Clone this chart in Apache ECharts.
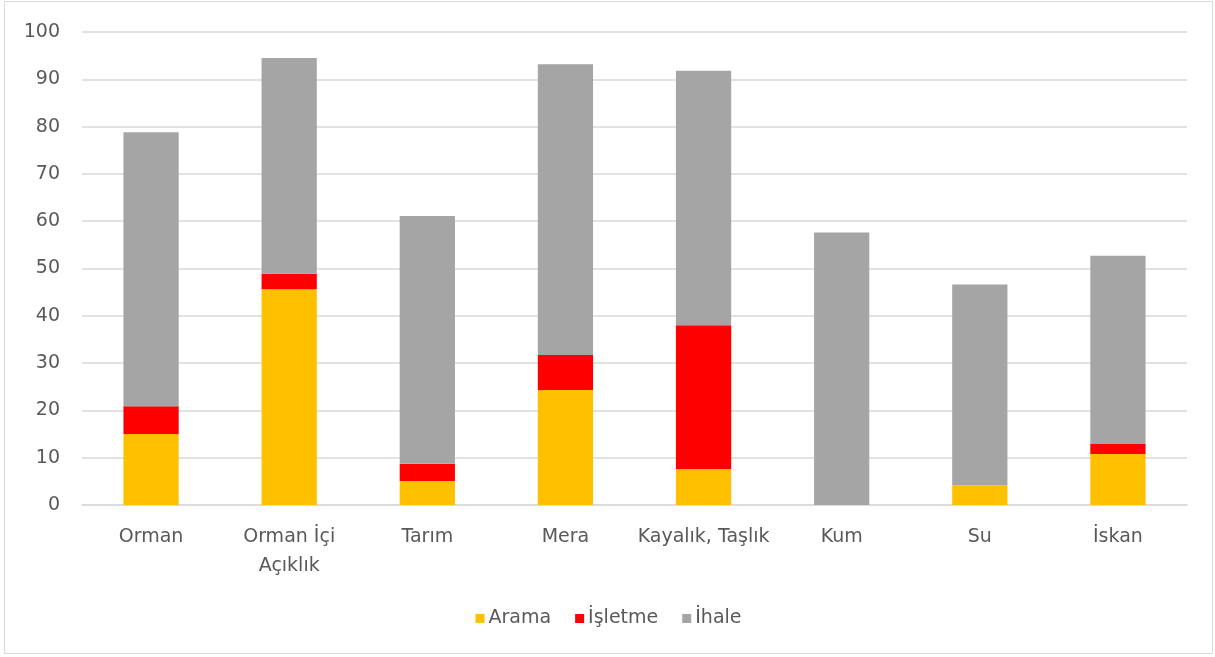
<!DOCTYPE html>
<html>
<head>
<meta charset="utf-8">
<script src="https://cdn.jsdelivr.net/npm/echarts@6/dist/echarts.min.js"></script>
<style>
  html, body { margin: 0; padding: 0; background: #fff; }
  #chart {
    position: absolute;
    left: 4px; top: 1px;
    width: 1209px; height: 653px;
    border: 1px solid #d9d9d9;
    box-sizing: border-box;
  }
</style>
</head>
<body>
<div id="chart"></div>
<script>
const categories = ['Orman', 'Orman İçi\nAçıklık', 'Tarım', 'Mera', 'Kayalık, Taşlık', 'Kum', 'Su', 'İskan']
const arama = [15.0, 45.6, 5.1, 24.3, 7.6, 0, 4.2, 10.8]
const isletme = [5.9, 3.3, 3.6, 7.4, 30.4, 0, 0, 2.1]
const ihale = [57.9, 45.6, 52.4, 61.5, 53.8, 57.6, 42.4, 39.8]

const font = 'DejaVu Sans'
const chart = echarts.init(document.getElementById('chart'))

const bar = (name, data, color) => ({
  name,
  type: 'bar',
  stack: 'total',
  data,
  barWidth: '40%',
  itemStyle: { color },
  emphasis: { disabled: true }
})

chart.setOption({
  animation: false,
  textStyle: { fontFamily: font },
  grid: { left: 77, right: 25, top: 30, bottom: 148 },
  legend: {
    bottom: 20,
    left: 'center',
    icon: 'rect',
    itemWidth: 9,
    itemHeight: 9,
    itemGap: 24,
    textStyle: { color: '#595959', fontSize: 19, fontFamily: font, padding: [0, 0, 0, -1] }
  },
  xAxis: {
    type: 'category',
    data: categories,
    axisTick: { show: false },
    axisLine: { lineStyle: { color: '#d9d9d9', width: 1.5 } },
    axisLabel: {
      color: '#595959',
      fontSize: 19,
      margin: 18,
      lineHeight: 29,
      interval: 0
    }
  },
  yAxis: {
    type: 'value',
    min: 0,
    max: 100,
    interval: 10,
    axisLine: { show: false },
    axisTick: { show: false },
    axisLabel: { color: '#595959', fontSize: 19, margin: 22 },
    splitLine: { lineStyle: { color: '#d9d9d9', width: 1.5 } }
  },
  series: [
    bar('Arama', arama, '#ffc000'),
    bar('İşletme', isletme, '#ff0000'),
    bar('İhale', ihale, '#a5a5a5')
  ]
})
</script>
</body>
</html>
